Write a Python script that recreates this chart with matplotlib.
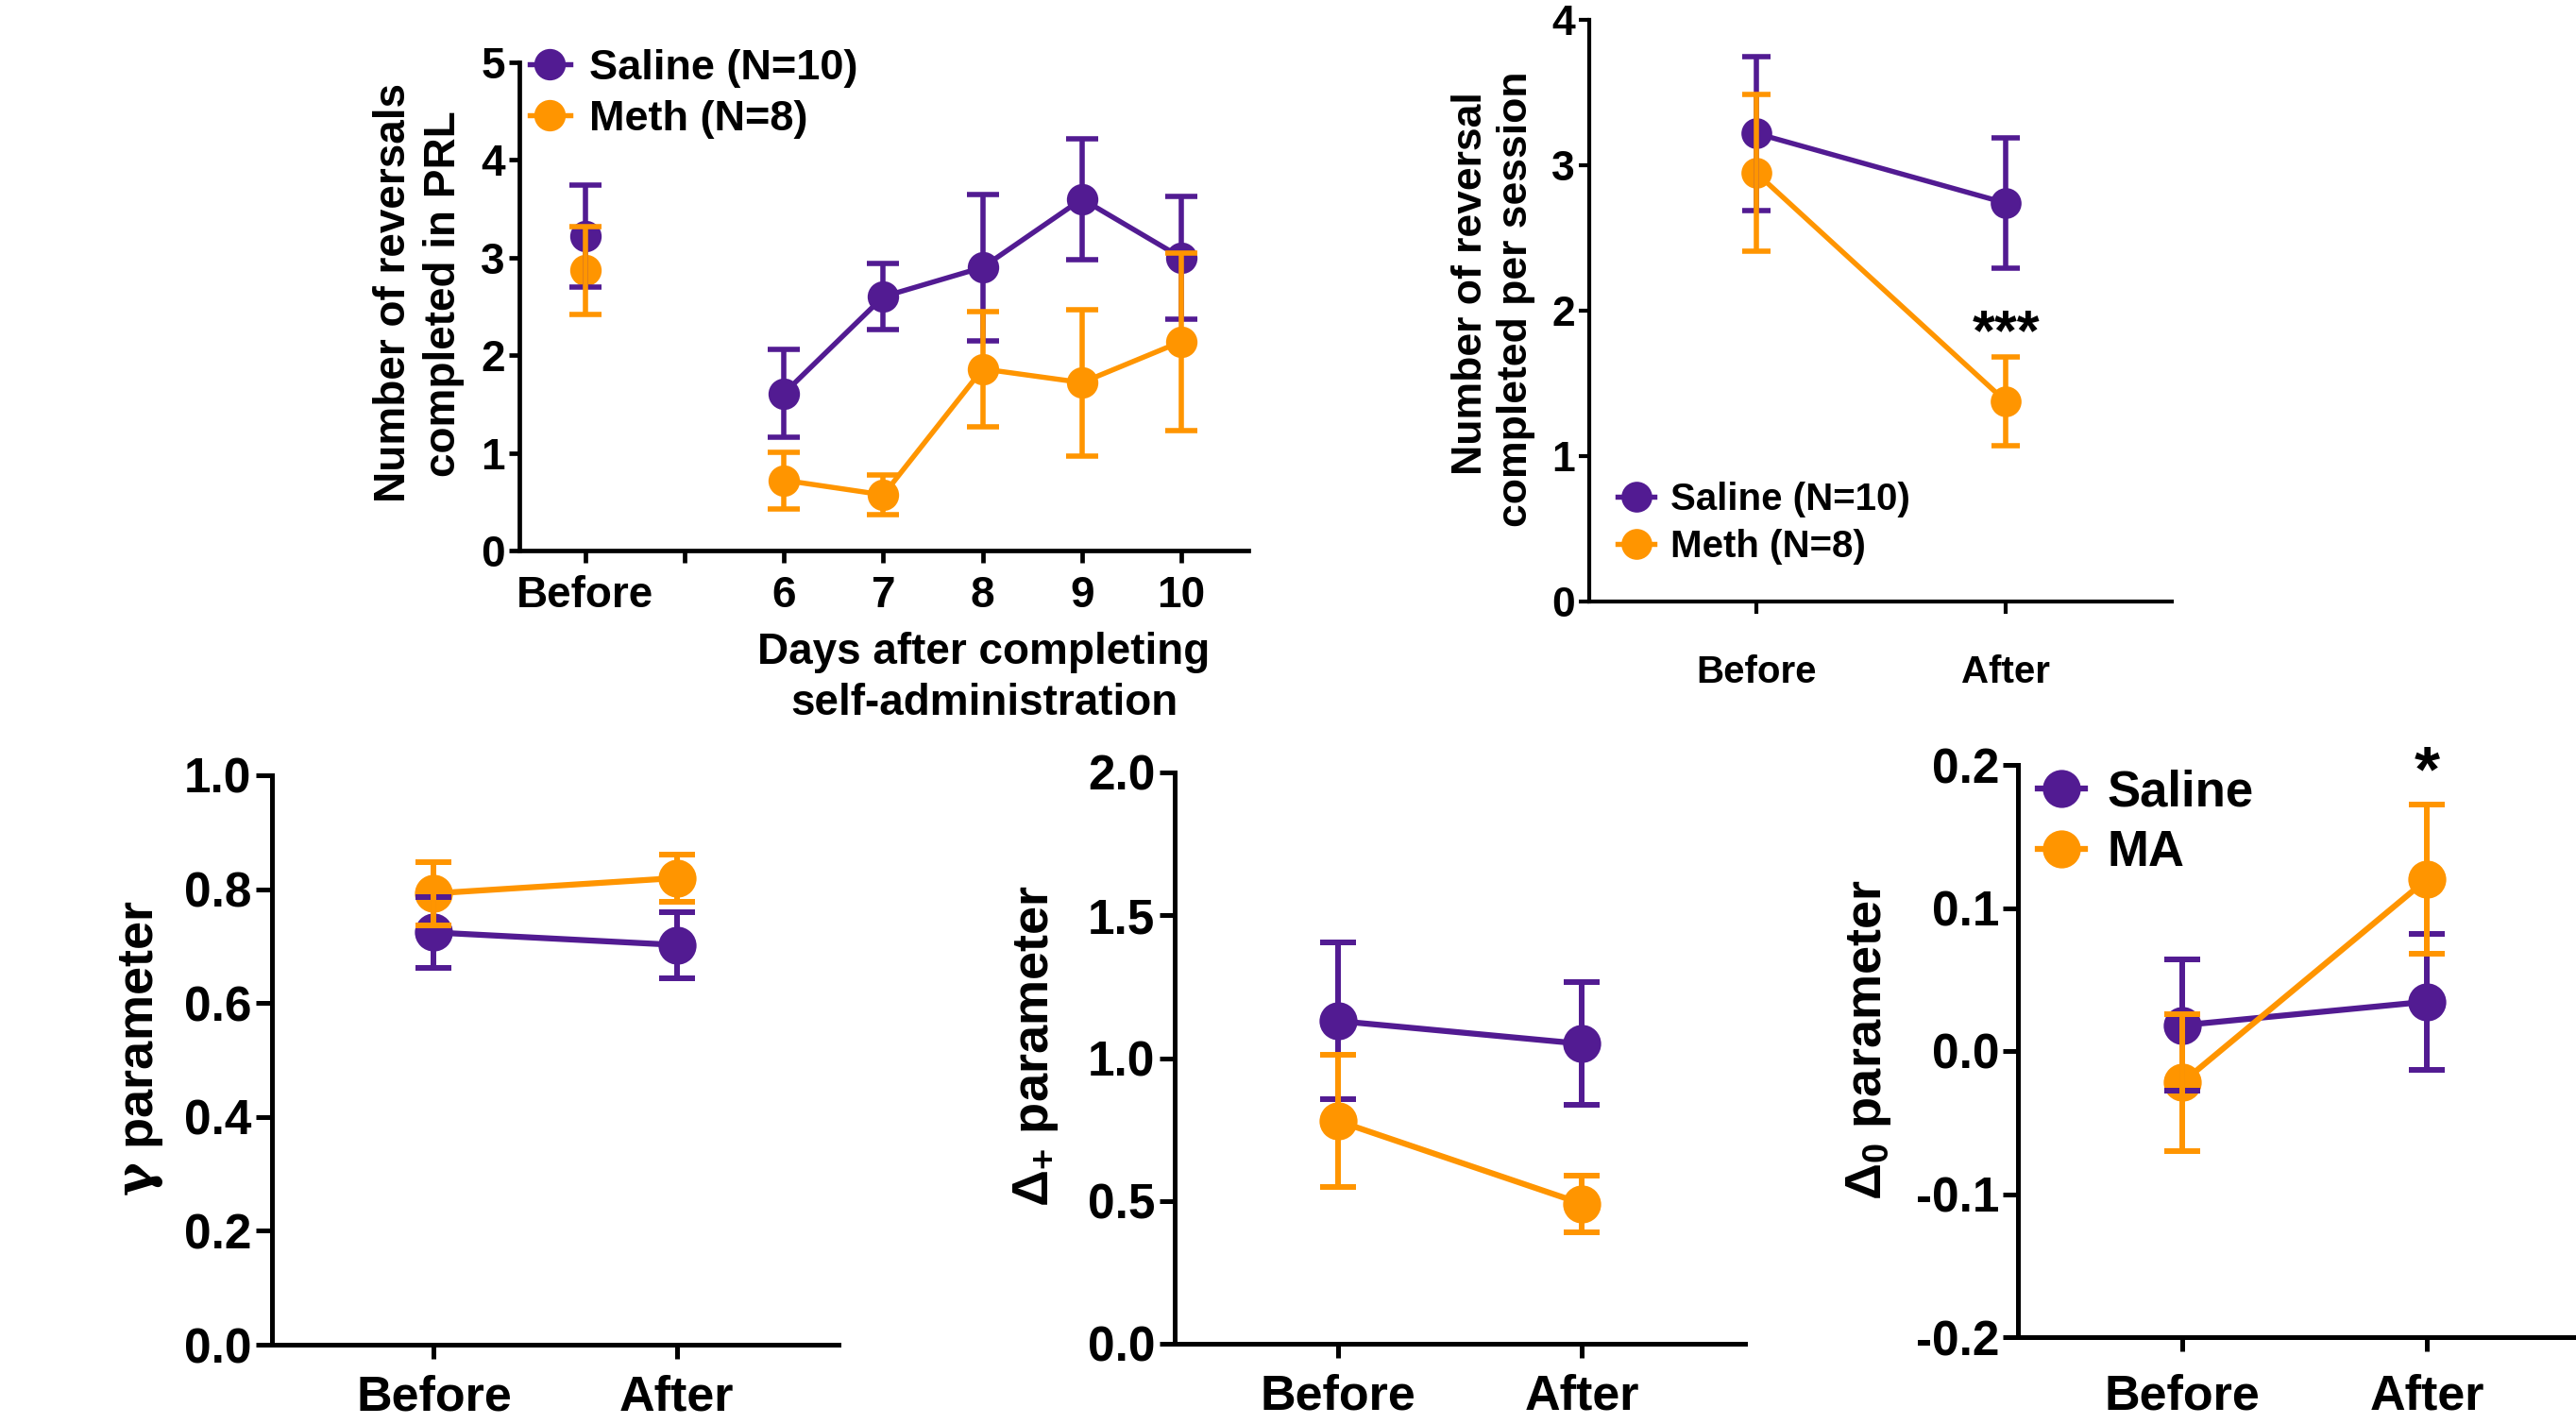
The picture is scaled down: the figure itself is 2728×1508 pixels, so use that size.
import matplotlib
matplotlib.use('Agg')
import matplotlib.pyplot as plt
from matplotlib.lines import Line2D

plt.rcParams['font.family'] = ['Liberation Sans', 'DejaVu Sans']
plt.rcParams['font.weight'] = 'bold'
plt.rcParams['axes.unicode_minus'] = False
plt.rcParams['mathtext.fontset'] = 'custom'
plt.rcParams['mathtext.rm'] = 'Liberation Sans'
plt.rcParams['mathtext.it'] = 'DejaVu Serif'
plt.rcParams['mathtext.bf'] = 'Liberation Sans:bold'

# ---------------- data ----------------
# Panel A: reversals per day
prl_pos = [4, 6, 7, 8, 9, 10]
prl_tick_pos = [4, 5, 6, 7, 8, 9, 10]
prl_tick_labels = ['Before', '', '6', '7', '8', '9', '10']
prl_saline = [3.22, 1.61, 2.60, 2.90, 3.60, 3.00]
prl_saline_sem = [0.52, 0.45, 0.34, 0.75, 0.62, 0.63]
prl_meth = [2.87, 0.72, 0.57, 1.86, 1.72, 2.14]
prl_meth_sem = [0.45, 0.29, 0.20, 0.59, 0.75, 0.91]

# Panels B-E: before / after
phases = ['Before', 'After']
sess_saline = [3.22, 2.74]
sess_saline_sem = [0.53, 0.45]
sess_meth = [2.95, 1.375]
sess_meth_sem = [0.54, 0.305]

gamma_saline = [0.724, 0.702]
gamma_saline_sem = [0.062, 0.058]
gamma_meth = [0.7925, 0.8195]
gamma_meth_sem = [0.0555, 0.0415]

dplus_saline = [1.13, 1.05]
dplus_saline_sem = [0.275, 0.215]
dplus_meth = [0.78, 0.49]
dplus_meth_sem = [0.23, 0.10]

dzero_saline = [0.018, 0.0345]
dzero_saline_sem = [0.046, 0.0475]
dzero_meth = [-0.022, 0.120]
dzero_meth_sem = [0.048, 0.052]

PURPLE = '#521b92'
ORANGE = '#ff9500'

W, H = 2728, 1508
fig = plt.figure(figsize=(W / 100, H / 100), dpi=100)


def add_ax(l, t, r, b):
    return fig.add_axes([l / W, 1 - b / H, (r - l) / W, (b - t) / H])


def ftext(x, y, s, **kw):
    return fig.text(x / W, 1 - y / H, s, **kw)


def style(ax, lw, ylen, xlen, ypad, xpad, yfs, xfs):
    for s in ['top', 'right']:
        ax.spines[s].set_visible(False)
    for s in ['left', 'bottom']:
        ax.spines[s].set_linewidth(lw)
        ax.spines[s].set_capstyle('projecting')
    ax.tick_params(axis='y', length=ylen, width=lw, pad=ypad, labelsize=yfs, direction='out')
    ax.tick_params(axis='x', length=xlen, width=lw, pad=xpad, labelsize=xfs, direction='out')
    for lab in ax.get_xticklabels() + ax.get_yticklabels():
        lab.set_fontweight('bold')


def draw_pair(ax, x, ys, es, ms, lw, elw, cs, connect=True):
    for y, c in zip(ys, [PURPLE, ORANGE]):
        ax.plot(x, y, '-' if connect else 'none', color=c, lw=lw, marker='o', ms=ms,
                mew=0, zorder=3, clip_on=False)
    for y, e, c in zip(ys, es, [PURPLE, ORANGE]):
        ax.errorbar(x, y, yerr=e, fmt='none', ecolor=c, elinewidth=elw, capsize=cs,
                    capthick=elw, zorder=4)


def legend(ax, labels, fs, ms, lw, anchor, hl, htp, ls):
    handles = [Line2D([0], [0], color=c, lw=lw, marker='o', ms=ms, mew=0)
               for c in [PURPLE, ORANGE]]
    ax.legend(handles, labels, loc='upper left',
              bbox_to_anchor=(anchor[0] / W, 1 - anchor[1] / H),
              bbox_transform=fig.transFigure, frameon=False, borderpad=0,
              borderaxespad=0, handlelength=hl, handletextpad=htp, labelspacing=ls,
              prop={'size': fs, 'weight': 'bold'})


# ---------------- Panel A ----------------
axA = add_ax(550, 66, 1322, 583)
draw_pair(axA, prl_pos[:1], [prl_saline[:1], prl_meth[:1]],
          [prl_saline_sem[:1], prl_meth_sem[:1]], 24, 3.9, 4.0, 12, connect=False)
draw_pair(axA, prl_pos[1:], [prl_saline[1:], prl_meth[1:]],
          [prl_saline_sem[1:], prl_meth_sem[1:]], 24, 3.9, 4.0, 12)
axA.set_xlim(3.335, 10.675)
axA.set_ylim(0, 5)
axA.set_yticks([0, 1, 2, 3, 4, 5])
axA.set_xticks(prl_tick_pos)
axA.set_xticklabels(prl_tick_labels)
style(axA, 3.4, 8, 9.5, 3, 9.5, 33, 33)
legend(axA, ['Saline (N=10)', 'Meth (N=8)'], 32.5, 24, 3.9, (561, 52), 0.95, 0.45, 0.29)
ftext(417, 310, 'Number of reversals', rotation=90, ha='center', va='center', fontsize=33, fontweight='bold')
ftext(470, 311, 'completed in PRL', rotation=90, ha='center', va='center', fontsize=33, fontweight='bold')
ftext(1042, 691, 'Days after completing', ha='center', va='center', fontsize=33, fontweight='bold')
ftext(1042, 745, 'self-administration', ha='center', va='center', fontsize=33, fontweight='bold')

# ---------------- Panel B ----------------
axB = add_ax(1683, 21, 2300, 637)
draw_pair(axB, [0, 1], [sess_saline, sess_meth], [sess_saline_sem, sess_meth_sem], 23.5, 3.9, 4.0, 11)
axB.set_xlim(-0.667, 1.664)
axB.set_ylim(0, 4)
axB.set_yticks([0, 1, 2, 3, 4])
axB.set_xticks([0, 1])
axB.set_xticklabels(phases)
style(axB, 3.0, 8, 9, 3, 31, 32, 29)
legend(axB, ['Saline (N=10)', 'Meth (N=8)'], 29, 23.5, 3.9, (1713, 510), 0.97, 0.43, 0.3)
axB.text(1, 1.73, '***', ha='center', va='baseline', fontsize=44, fontweight='bold')
ftext(1557, 300, 'Number of reversal', rotation=90, ha='center', va='center', fontsize=32, fontweight='bold')
ftext(1606, 317, 'completed per session', rotation=90, ha='center', va='center', fontsize=32, fontweight='bold')

# ---------------- Panel C ----------------
axC = add_ax(288, 821, 888, 1424)
draw_pair(axC, [0, 1], [gamma_saline, gamma_meth], [gamma_saline_sem, gamma_meth_sem], 29, 4.5, 4.3, 14)
axC.set_xlim(-0.667, 1.667)
axC.set_ylim(0, 1.0)
axC.set_yticks([0.0, 0.2, 0.4, 0.6, 0.8, 1.0])
axC.set_yticklabels(['0.0', '0.2', '0.4', '0.6', '0.8', '1.0'])
axC.set_xticks([0, 1])
axC.set_xticklabels(phases)
style(axC, 3.6, 12, 11, 3.5, 11.5, 37, 37.5)
ftext(150, 1110, r'$\gamma$ parameter', rotation=90, ha='center', va='center', fontsize=39, fontweight='bold')

# ---------------- Panel D ----------------
axD = add_ax(1244, 818, 1848, 1423)
draw_pair(axD, [0, 1], [dplus_saline, dplus_meth], [dplus_saline_sem, dplus_meth_sem], 29, 4.5, 4.3, 14)
axD.set_xlim(-0.667, 1.667)
axD.set_ylim(0, 2.0)
axD.set_yticks([0.0, 0.5, 1.0, 1.5, 2.0])
axD.set_yticklabels(['0.0', '0.5', '1.0', '1.5', '2.0'])
axD.set_xticks([0, 1])
axD.set_xticklabels(phases)
style(axD, 3.6, 11.5, 11, 3.5, 11.5, 37, 37.5)
ftext(1097, 1108, r'$\Delta_{\mathbf{+}}$ parameter', rotation=90, ha='center', va='center', fontsize=39, fontweight='bold')

# ---------------- Panel E ----------------
axE = add_ax(2137, 810, 2728, 1416)
draw_pair(axE, [0, 1], [dzero_saline, dzero_meth], [dzero_saline_sem, dzero_meth_sem], 29, 4.5, 4.3, 14)
axE.set_xlim(-0.672, 1.61)
axE.set_ylim(-0.2, 0.2)
axE.set_yticks([-0.2, -0.1, 0.0, 0.1, 0.2])
axE.set_yticklabels(['-0.2', '-0.1', '0.0', '0.1', '0.2'])
axE.set_xticks([0, 1])
axE.set_xticklabels(phases)
style(axE, 3.6, 11.5, 11, 2.5, 16.5, 37, 37.5)
legend(axE, ['Saline', 'MA'], 38, 29, 4.5, (2158, 814), 0.95, 0.45, 0.27)
axE.text(1, 0.182, '*', ha='center', va='baseline', fontsize=50, fontweight='bold', clip_on=False)
ftext(1979, 1101, r'$\Delta_{\mathbf{0}}$ parameter', rotation=90, ha='center', va='center', fontsize=39, fontweight='bold')

fig.savefig('out.png', dpi=100)
